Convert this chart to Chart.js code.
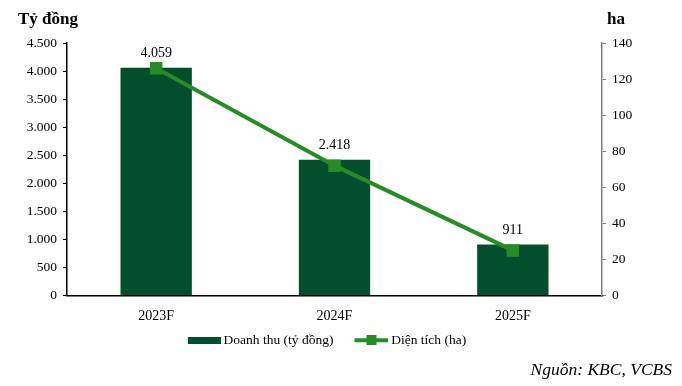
<!DOCTYPE html>
<html>
<head>
<meta charset="utf-8">
<script src="https://cdn.jsdelivr.net/npm/chart.js@4/dist/chart.umd.min.js"></script>
<style>
  body { margin: 0; background: #fff; }
  #wrap { position: relative; width: 682px; height: 386px; font-family: "Liberation Serif", "Times New Roman", serif; }
  .ttl { position: absolute; font-weight: bold; font-size: 17px; color: #000; }
  #src { position: absolute; right: 10px; top: 359px; font-style: italic; font-size: 17.5px; }
</style>
</head>
<body>
<div id="wrap">
  <canvas id="myChart" width="682" height="386"></canvas>
  <div class="ttl" style="left:18px; top:9px;">Tỷ đồng</div>
  <div class="ttl" style="left:607px; top:9px;">ha</div>
  <div id="src">Nguồn: KBC, VCBS</div>
</div>
<script>
var years = ['2023F', '2024F', '2025F'];
var doanhThu = [4059, 2418, 911];
var dienTich = [126, 72, 25];
var leftTicks = [0, 500, 1000, 1500, 2000, 2500, 3000, 3500, 4000, 4500];

var barColor = 'rgb(2, 78, 45)';
var lineColor = 'rgb(38, 140, 38)';
var font = 'Liberation Serif';
var fs = 13.5;

function fmt(v) {
  return String(v).replace(/\B(?=(\d{3})+(?!\d))/g, '.');
}

// legend swatches (swatch pushed to the right so the text sits close)
var barSwatch = document.createElement('canvas');
barSwatch.width = 49; barSwatch.height = 7;
var c1 = barSwatch.getContext('2d');
c1.fillStyle = barColor;
c1.fillRect(16, 0, 33, 7);

var lineSwatch = document.createElement('canvas');
lineSwatch.width = 49; lineSwatch.height = 10;
var c2 = lineSwatch.getContext('2d');
c2.fillStyle = lineColor;
c2.fillRect(15, 3, 34, 4);
c2.fillRect(27, 0, 10, 10);

const barLabels = {
  id: 'barLabels',
  afterDatasetsDraw(chart) {
    var ctx = chart.ctx;
    var meta = chart.getDatasetMeta(1);
    ctx.save();
    ctx.font = '14px "' + font + '"';
    ctx.fillStyle = '#000';
    ctx.textAlign = 'center';
    ctx.textBaseline = 'bottom';
    meta.data.forEach(function (bar, i) {
      ctx.fillText(fmt(doanhThu[i]), bar.x, bar.y - 7);
    });
    ctx.restore();
  }
};

const config = {
  data: {
    labels: years,
    datasets: [
      {
        type: 'line',
        label: 'Diện tích (ha)',
        data: dienTich,
        yAxisID: 'y1',
        borderColor: lineColor,
        backgroundColor: lineColor,
        borderWidth: 4,
        pointStyle: 'rect',
        pointRadius: 6,
        pointHoverRadius: 6,
        tension: 0,
        order: 0
      },
      {
        type: 'bar',
        label: 'Doanh thu (tỷ đồng)',
        data: doanhThu,
        yAxisID: 'y',
        backgroundColor: barColor,
        barPercentage: 0.4,
        categoryPercentage: 1,
        order: 1
      }
    ]
  },
  options: {
    responsive: false,
    animation: false,
    layout: { padding: { top: 43, left: 0, right: 40, bottom: 29 } },
    plugins: {
      tooltip: { enabled: false },
      legend: {
        position: 'bottom',
        labels: {
          usePointStyle: true,
          pointStyleWidth: 41,
          padding: 10,
          color: '#000',
          font: { family: font, size: fs },
          generateLabels: function (chart) {
            return [
              { text: 'Doanh thu (tỷ đồng)', pointStyle: barSwatch, datasetIndex: 1, lineWidth: 0, fontColor: '#000' },
              { text: 'Diện tích (ha)', pointStyle: lineSwatch, datasetIndex: 0, lineWidth: 0, fontColor: '#000' }
            ];
          }
        }
      }
    },
    scales: {
      x: {
        grid: { display: false },
        border: { display: true, color: '#000', width: 1.5 },
        ticks: { color: '#000', font: { family: font, size: 14 }, padding: 4 },
        afterFit: function (s) { s.height = 28; }
      },
      y: {
        position: 'left',
        min: 0,
        max: 4500,
        afterBuildTicks: function (s) { s.ticks = leftTicks.map(function (v) { return { value: v }; }); },
        ticks: {
          color: '#000',
          font: { family: font, size: fs },
          padding: 6,
          callback: function (v) { return fmt(v); }
        },
        grid: { drawOnChartArea: false, color: '#000', tickLength: 4 },
        border: { display: true, color: '#000', width: 1.5 },
        afterFit: function (s) { s.width = 67; }
      },
      y1: {
        position: 'right',
        min: 0,
        max: 140,
        ticks: {
          stepSize: 20,
          color: '#000',
          font: { family: font, size: fs },
          padding: 6
        },
        grid: { drawOnChartArea: false, color: '#808080', tickLength: 4 },
        border: { display: true, color: '#808080', width: 1.5 },
        afterFit: function (s) { s.width = 40; }
      }
    }
  },
  plugins: [barLabels]
};

var ctx = document.getElementById('myChart').getContext('2d');
var grafica = new Chart(ctx, config);
</script>
</body>
</html>
